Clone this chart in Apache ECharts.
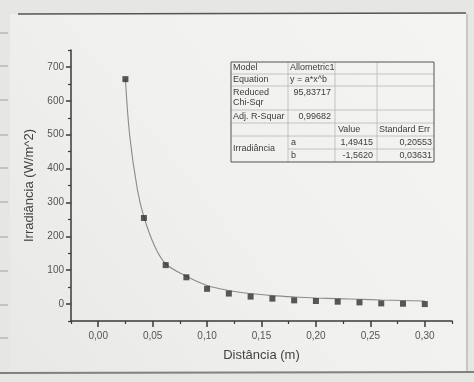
<!DOCTYPE html>
<html>
<head>
<meta charset="utf-8">
<script src="https://cdn.jsdelivr.net/npm/echarts@6.0.0/dist/echarts.min.js"></script>
<style>
  html, body { margin: 0; padding: 0; background: #e4e4e2; }
  #chart { width: 474px; height: 382px; }
</style>
</head>
<body>
<div id="chart"></div>
<script>
// pontos medidos
const distancia = [0.025, 0.042, 0.062, 0.081, 0.10, 0.12, 0.14, 0.16, 0.18, 0.20, 0.22, 0.24, 0.26, 0.28, 0.30];
const irradiancia = [664, 254, 115, 79, 45, 31, 22, 16, 11, 9, 7, 5, 2, 1, 0];

// curva de ajuste
const ajusteX = [0.025, 0.029, 0.036, 0.042, 0.052, 0.062, 0.081, 0.10, 0.12, 0.14, 0.16, 0.18, 0.20, 0.22, 0.24, 0.26, 0.28, 0.30];
const ajusteY = [664, 495, 338, 257, 170, 119, 82, 55, 40, 31, 25, 21, 18, 16, 14, 12, 10.5, 9];

// ticks
const xMajor = [0, 0.05, 0.10, 0.15, 0.20, 0.25, 0.30];
const xMinor = [-0.025, 0.025, 0.075, 0.125, 0.175, 0.225, 0.275, 0.325];
const yMajor = [0, 100, 200, 300, 400, 500, 600, 700];
const yMinor = [-50, 50, 150, 250, 350, 450, 550, 650, 750];

// tabela do ajuste
const tabela = [
  ['Model', 'Allometric1'],
  ['Equation', 'y = a*x^b'],
  ['Reduced', 'Chi-Sqr', '95,83717'],
  ['Adj. R-Squar', '0,99682'],
  ['Value', 'Standard Err'],
  ['Irradiância', 'a', 'b', '1,49415', '-1,5620', '0,20553', '0,03631']
];

const FONT = '"Liberation Sans", Arial, sans-serif';
const axisColor = '#3a3a3a';
const textColor = '#555';

function buildTable() {
  const cx = [231, 288, 335, 377, 434];
  const ry = [62, 74, 86, 110, 123, 136, 149, 162];
  const items = [];
  const thin = { stroke: '#b8b8b6', lineWidth: 0.8 };
  // linhas horizontais internas
  for (let i = 1; i < ry.length - 1; i++) {
    const x1 = i === 6 ? cx[1] : cx[0];
    items.push({ type: 'line', shape: { x1: x1, y1: ry[i], x2: cx[4], y2: ry[i] }, style: thin, z: 100 });
  }
  // linhas verticais
  for (let j = 1; j < cx.length - 1; j++) {
    items.push({ type: 'line', shape: { x1: cx[j], y1: ry[0], x2: cx[j], y2: ry[7] }, style: thin, z: 100 });
  }
  items.push({
    type: 'rect',
    shape: { x: cx[0], y: ry[0], width: cx[4] - cx[0], height: ry[7] - ry[0] },
    style: { fill: 'rgba(0,0,0,0)', stroke: '#555', lineWidth: 1 },
    z: 101
  });
  const txt = (s, x, y, align) => ({
    type: 'text', z: 102,
    style: { text: s, x: x, y: y, font: '9px ' + FONT, fill: '#3c3c3c', textAlign: align || 'left', textVerticalAlign: 'middle', verticalAlign: 'middle' }
  });
  const midY = (a, b) => (ry[a] + ry[b]) / 2;
  items.push(txt(tabela[0][0], 233, midY(0, 1)));
  items.push(txt(tabela[0][1], 290, midY(0, 1)));
  items.push(txt(tabela[1][0], 233, midY(1, 2)));
  items.push(txt(tabela[1][1], 290, midY(1, 2)));
  items.push(txt(tabela[2][0], 233, 92.5));
  items.push(txt(tabela[2][1], 233, 102.5));
  items.push(txt(tabela[2][2], 331, 92.5, 'right'));
  items.push(txt(tabela[3][0], 233, midY(3, 4)));
  items.push(txt(tabela[3][1], 331, midY(3, 4), 'right'));
  items.push(txt(tabela[4][0], 338, midY(4, 5)));
  items.push(txt(tabela[4][1], 379, midY(4, 5)));
  const t = tabela[5];
  items.push(txt(t[0], 233, ry[6]));
  items.push(txt(t[1], 291, midY(5, 6)));
  items.push(txt(t[2], 291, midY(6, 7)));
  items.push(txt(t[3], 373, midY(5, 6), 'right'));
  items.push(txt(t[4], 373, midY(6, 7), 'right'));
  items.push(txt(t[5], 432, midY(5, 6), 'right'));
  items.push(txt(t[6], 432, midY(6, 7), 'right'));
  return items;
}

function buildPaper() {
  const items = [];
  items.push({
    type: 'rect', z: -10, silent: true,
    shape: { x: 10, y: 14, width: 458, height: 359 },
    style: {
      fill: new echarts.graphic.LinearGradient(1, 0, 0, 1, [
        { offset: 0, color: '#f4f4f2' },
        { offset: 0.55, color: '#f0f0ee' },
        { offset: 1, color: '#e8e8e6' }
      ])
    }
  });
  items.push({ type: 'line', z: -9, shape: { x1: 18, y1: 14, x2: 466, y2: 13 }, style: { stroke: '#555', lineWidth: 1.3 } });
  items.push({ type: 'line', z: -9, shape: { x1: 467, y1: 14, x2: 467, y2: 373 }, style: { stroke: '#a8a8a6', lineWidth: 1.2 } });
  items.push({ type: 'line', z: -9, shape: { x1: 0, y1: 373, x2: 474, y2: 372 }, style: { stroke: '#808080', lineWidth: 2 } });
  [33, 66, 100, 135, 168, 202, 237, 271, 305, 338].forEach(function (y) {
    items.push({ type: 'line', z: -9, shape: { x1: 0, y1: y, x2: 8, y2: y }, style: { stroke: '#a0a0a0', lineWidth: 1 } });
  });
  return items;
}

const chart = echarts.init(document.getElementById('chart'));

const option = {
  backgroundColor: '#e6e6e4',
  animation: false,
  textStyle: { fontFamily: FONT },
  grid: { left: 71, right: 22, top: 50, bottom: 61, containLabel: false },
  xAxis: [
    {
      type: 'value', min: -0.025, max: 0.325,
      name: 'Distância (m)', nameLocation: 'middle', nameGap: 28,
      nameTextStyle: { fontSize: 13, color: '#444', fontFamily: FONT },
      axisLine: { show: true, onZero: false, lineStyle: { color: axisColor, width: 1.5 } },
      axisTick: { show: true, length: 6, customValues: xMajor, lineStyle: { color: axisColor, width: 1.5 } },
      axisLabel: {
        customValues: xMajor, margin: 10, fontSize: 10, color: textColor,
        formatter: v => v.toFixed(2).replace('.', ',')
      },
      splitLine: { show: false }
    },
    {
      type: 'value', min: -0.025, max: 0.325, position: 'bottom',
      axisLine: { show: false, onZero: false },
      axisTick: { show: true, length: 3, customValues: xMinor, lineStyle: { color: axisColor, width: 1.2 } },
      axisLabel: { show: false },
      splitLine: { show: false }
    }
  ],
  yAxis: [
    {
      type: 'value', min: -50, max: 750,
      name: 'Irradiância (W/m^2)', nameLocation: 'middle', nameGap: 30,
      nameTextStyle: { fontSize: 13, color: '#444', fontFamily: FONT },
      axisLine: { show: true, onZero: false, lineStyle: { color: axisColor, width: 1.5 } },
      axisTick: { show: true, length: 5, customValues: yMajor, lineStyle: { color: axisColor, width: 1.5 } },
      axisLabel: { customValues: yMajor, margin: 7, fontSize: 10, color: textColor },
      splitLine: { show: false }
    },
    {
      type: 'value', min: -50, max: 750, position: 'left',
      axisLine: { show: false, onZero: false },
      axisTick: { show: true, length: 3, customValues: yMinor, lineStyle: { color: axisColor, width: 1.2 } },
      axisLabel: { show: false },
      splitLine: { show: false }
    }
  ],
  series: [
    {
      name: 'ajuste', type: 'line', xAxisIndex: 0, yAxisIndex: 0,
      data: ajusteX.map((x, i) => [x, ajusteY[i]]),
      smooth: 0.35, showSymbol: false, symbol: 'none',
      lineStyle: { color: '#8c8c8a', width: 1.1 }, z: 2
    },
    {
      name: 'Irradiância', type: 'scatter', xAxisIndex: 0, yAxisIndex: 0,
      data: distancia.map((x, i) => [x, irradiancia[i]]),
      symbol: 'rect', symbolSize: 6,
      itemStyle: { color: '#2f2f2f' }, z: 3
    }
  ],
  graphic: buildPaper().concat(buildTable())
};

chart.setOption(option);
</script>
</body>
</html>
